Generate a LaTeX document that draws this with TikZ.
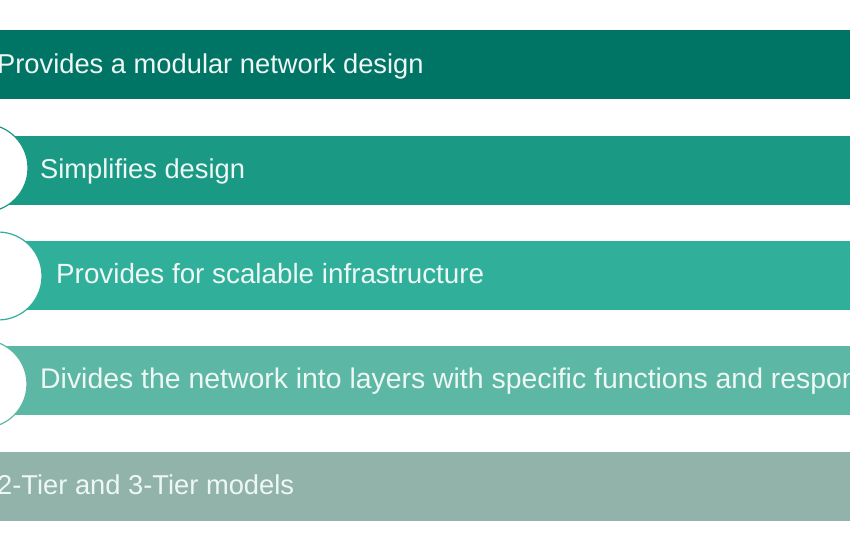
\documentclass[tikz,border=0pt]{standalone}
\usepackage{fontspec}
\setmainfont{Liberation Sans}
\usetikzlibrary{positioning}
\definecolor{tierA}{HTML}{007566}
\definecolor{tierB}{HTML}{1A9985}
\definecolor{tierC}{HTML}{30B09A}
\definecolor{tierD}{HTML}{5CB7A5}
\definecolor{tierE}{HTML}{91B3AA}
\definecolor{tierText}{HTML}{EEF7F4}

\begin{document}
\begin{tikzpicture}[x=1pt,y=-1pt,
  bar/.style={rectangle, inner sep=0pt, minimum height=69pt, minimum width=860pt, anchor=west},
  txt/.style={text=tierText, font=\fontsize{27.3}{32}\selectfont, anchor=base west, inner sep=0pt},
  disc/.style={circle, fill=white, line width=1.2pt, minimum size=88pt, inner sep=0pt}]
\useasboundingbox (0,0) rectangle (850,550);

% bars
\node[bar, fill=tierA] (bar1) at (0,64) {};
\node[bar, fill=tierB] (bar2) at (0,170) {};
\node[bar, fill=tierC] (bar3) at (0,275) {};
\node[bar, fill=tierD] (bar4) at (0,380) {};
\node[bar, fill=tierE] (bar5) at (0,486) {};

% circles on the left edge
\node[disc, draw=tierB] (c2) at (-16,168) {};
\node[disc, draw=tierC] (c3) at (-2,276) {};
\node[disc, draw=tierD] (c4) at (-17,384) {};

% texts
\node[txt] (t1) at (-3,73) {Provides a modular network design};
\node[txt] (t2) at (40,178) {Simplifies design};
\node[txt, font=\fontsize{27.8}{32}\selectfont] (t3) at (56,283) {Provides for scalable infrastructure};
\node[txt, font=\fontsize{28.4}{32}\selectfont] (t4) at (40,388) {Divides the network into layers with specific functions and responsibilities};
\node[txt] (t5) at (-3,494) {2-Tier and 3-Tier models};
\end{tikzpicture}
\end{document}
